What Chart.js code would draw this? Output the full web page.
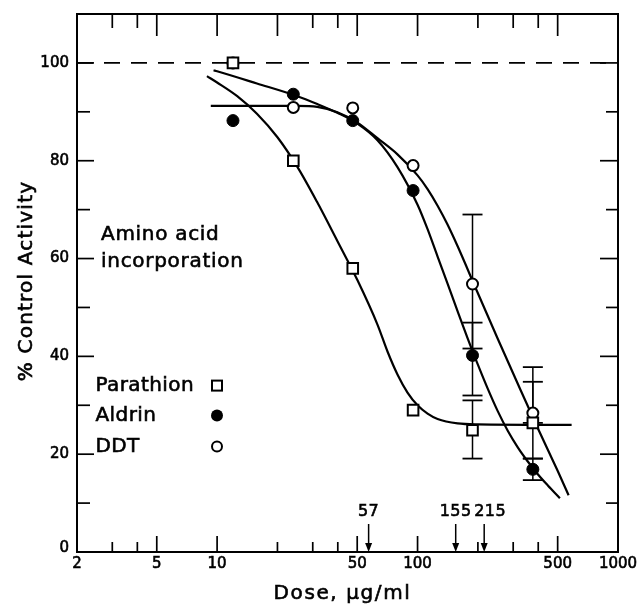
<!DOCTYPE html>
<html><head><meta charset="utf-8">
<script src="https://cdn.jsdelivr.net/npm/chart.js@4.4.0/dist/chart.umd.min.js"></script>
<style>html,body{margin:0;padding:0;background:#fff;}</style>
</head><body>
<canvas id="c" width="643" height="605"></canvas>
<script>
// ---------- data ----------
const doses = [12, 24, 47.5, 95, 188, 376];
const seriesNames = ['Parathion', 'Aldrin', 'DDT'];
const parathionValues = [100, 80, 58, 29, 24.9, 26.4];
const aldrinValues = [88.2, 93.6, 88.2, 73.9, 40.2, 16.9];
const ddtValues = [100, 90.9, 90.8, 79, 54.8, 28.4];

// error bars: [dose, low, high]
const parathionErr = [[188, 19.1, 31], [376, 26.4, 34.8]];
const aldrinErr = [[188, 32, 46.9], [376, 14.7, 19.1]];
const ddtErr = [[188, 41.6, 69], [376, 19.1, 37.8]];

// fitted curves: [dose, %]
const parathionCurve = [[8.9,97.3],[10,96],[12.6,93.2],[15.8,89.6],[20,84.8],[25.1,78.8],[31.6,71.5],[39.8,63.6],[50.1,55.6],[63.1,46.5],[70.8,41],[79.4,36.3],[89.1,32.6],[100,30],[112.2,28.3],[125.9,27.2],[158.5,26.3],[199.5,26.1],[587,26]];
const aldrinCurve = [[9.6,98.5],[10,98.3],[15.8,95.8],[25.1,93.2],[31.6,91.6],[39.8,89.8],[50.1,87.6],[63.1,84.2],[79.4,78.7],[100,71],[112.2,66],[125.9,60.4],[141.3,54.8],[158.5,49.2],[177.8,43.7],[199.5,38.4],[223.9,33.4],[251.2,28.8],[281.8,24.8],[316.2,21.4],[354.8,18.5],[398.1,15.9],[446.7,13.6],[513,11]];
const ddtCurve = [[9.3,91.2],[25.1,91.2],[31.6,91],[39.8,89.9],[50.1,87.8],[63.1,84.6],[79.4,81.3],[100,77],[112.2,74.2],[125.9,70.8],[141.3,66.9],[158.5,62.5],[199.5,53],[251.2,43.6],[316.2,34.4],[398.1,25.3],[501.2,16.5],[567,11.6]];

const controlLevel = 100;
const xRange = [2, 1000];
const yRange = [0, 110];
const xTickLabels = [2, 5, 10, 50, 100, 500, 1000];
const xLongMarks = [5, 10, 50, 100, 500];
const xShortMarks = [3, 4, 20, 30, 40, 200, 300, 400];
const xTopLongMarks = [5, 10, 20, 50, 100, 500];
const xTopShortMarks = [3, 4, 30, 40, 200, 300, 400];
const yTickLabels = [0, 20, 40, 60, 80, 100];
const yMinorMarks = [10, 30, 50, 70, 90];
const arrowDoses = [57, 155, 215];
const arrowLabels = ['57', '155', '215'];
const annotationLines = ['Amino acid', 'incorporation'];
const xTitle = 'Dose, \u03bcg/ml';
const yTitle = '% Control Activity';

// ---------- build datasets ----------
const pts = (xs, ys) => xs.map((x, i) => ({x, y: ys[i]}));
const curvePts = c => c.map(p => ({x: p[0], y: p[1]}));
const errPts = e => {
  const out = [];
  e.forEach(b => { out.push({x: b[0], y: b[1]}, {x: b[0], y: b[2]}, {x: b[0], y: null}); });
  return out;
};

const FONT = '"DejaVu Sans", sans-serif';
function txt(ctx, s, x, y, size, align, spacing) {
  ctx.save();
  ctx.font = size + 'px ' + FONT;
  ctx.letterSpacing = (spacing || 0) + 'px';
  ctx.textAlign = align || 'center';
  ctx.textBaseline = 'middle';
  ctx.fillStyle = '#000';
  ctx.strokeStyle = '#000';
  ctx.lineWidth = 0.6;
  ctx.fillText(s, x, y);
  ctx.strokeText(s, x, y);
  ctx.restore();
}

const curveStyle = {showLine: true, pointRadius: 0, borderColor: '#000', borderWidth: 2.2, cubicInterpolationMode: 'monotone', order: 3};
const errStyle = {showLine: true, borderColor: '#000', borderWidth: 1.5, pointStyle: 'line', pointRadius: 10, pointBorderWidth: 1.8, pointBorderColor: '#000', spanGaps: false, order: 2};

const decor = {
  id: 'decor',
  afterDatasetsDraw(chart) {
    const ctx = chart.ctx, a = chart.chartArea;
    const xs = chart.scales.x, ys = chart.scales.y;
    ctx.save();
    ctx.strokeStyle = '#000';
    ctx.lineWidth = 2;
    ctx.strokeRect(a.left, a.top, a.right - a.left, a.bottom - a.top);
    ctx.lineWidth = 1.7;
    const vt = (v, y0, len) => { const x = xs.getPixelForValue(v); ctx.beginPath(); ctx.moveTo(x, y0); ctx.lineTo(x, y0 + len); ctx.stroke(); };
    const ht = (v, x0, len) => { const y = ys.getPixelForValue(v); ctx.beginPath(); ctx.moveTo(x0, y); ctx.lineTo(x0 + len, y); ctx.stroke(); };
    xLongMarks.forEach(v => vt(v, a.bottom, -16));
    xShortMarks.forEach(v => vt(v, a.bottom, -10));
    xTopLongMarks.forEach(v => vt(v, a.top, 22));
    xTopShortMarks.forEach(v => vt(v, a.top, 14));
    yTickLabels.filter(v => v > 0).forEach(v => { ht(v, a.left, 17); ht(v, a.right, -18); });
    yMinorMarks.forEach(v => { ht(v, a.left, 13); ht(v, a.right, -12); });
    // tick labels
    xTickLabels.forEach(v => txt(ctx, String(v), xs.getPixelForValue(v), a.bottom + 12, 15, 'center'));
    yTickLabels.forEach(v => txt(ctx, String(v), a.left - 8, ys.getPixelForValue(v) - (v === 0 ? 4 : 0), 15, 'right'));
    // titles
    txt(ctx, xTitle, (a.left + a.right) / 2 - 5, a.bottom + 42, 20, 'center', 1.6);
    ctx.save();
    ctx.translate(27, (a.top + a.bottom) / 2 - 2);
    ctx.rotate(-Math.PI / 2);
    txt(ctx, yTitle, 0, 0, 20, 'center', 1.2);
    ctx.restore();
    // arrows
    ctx.lineWidth = 1.5;
    arrowDoses.forEach((d, i) => {
      const x = xs.getPixelForValue(d);
      ctx.beginPath(); ctx.moveTo(x, a.bottom - 28); ctx.lineTo(x, a.bottom - 6); ctx.stroke();
      ctx.beginPath(); ctx.moveTo(x - 3.5, a.bottom - 9); ctx.lineTo(x + 3.5, a.bottom - 9); ctx.lineTo(x, a.bottom); ctx.closePath(); ctx.fillStyle = '#000'; ctx.fill();
      txt(ctx, arrowLabels[i], x + (i === 2 ? 6 : 0), a.bottom - 40, 16, 'center', 0.5);
    });
    // annotation
    txt(ctx, annotationLines[0], 101, 234.5, 20, 'left', 0.7);
    txt(ctx, annotationLines[1], 101, 262, 20, 'left', 0.7);
    // legend
    const ly = [385.6, 415.5, 446.5];
    seriesNames.forEach((n, i) => txt(ctx, n, 95.5, ly[i], 20, 'left', 0.4));
    const mx = 217;
    ctx.lineWidth = 2;
    ctx.strokeRect(mx - 5, ly[0] - 5, 10, 10);
    ctx.beginPath(); ctx.arc(mx, ly[1], 6, 0, Math.PI * 2); ctx.fillStyle = '#000'; ctx.fill();
    ctx.beginPath(); ctx.arc(mx, ly[2], 5, 0, Math.PI * 2); ctx.stroke();
    ctx.restore();
  }
};

new Chart(document.getElementById('c'), {
  type: 'scatter',
  data: {
    datasets: [
      {label: seriesNames[0], data: pts(doses, parathionValues), pointStyle: 'rect', pointRadius: 7.5, pointBorderWidth: 2, pointBorderColor: '#000', pointBackgroundColor: '#fff', order: 0},
      {label: seriesNames[1], data: pts(doses, aldrinValues), pointStyle: 'circle', pointRadius: 6, pointBorderWidth: 1, pointBorderColor: '#000', pointBackgroundColor: '#000', order: 0},
      {label: seriesNames[2], data: pts(doses, ddtValues), pointStyle: 'circle', pointRadius: 5.5, pointBorderWidth: 2, pointBorderColor: '#000', pointBackgroundColor: '#fff', order: 0},
      Object.assign({label: 'pErr', data: errPts(parathionErr)}, errStyle),
      Object.assign({label: 'aErr', data: errPts(aldrinErr)}, errStyle),
      Object.assign({label: 'dErr', data: errPts(ddtErr)}, errStyle),
      Object.assign({label: 'pCurve', data: curvePts(parathionCurve)}, curveStyle),
      Object.assign({label: 'aCurve', data: curvePts(aldrinCurve)}, curveStyle),
      Object.assign({label: 'dCurve', data: curvePts(ddtCurve)}, curveStyle),
      {label: 'control', data: [{x: xRange[0], y: controlLevel}, {x: xRange[1], y: controlLevel}], showLine: true, pointRadius: 0, borderColor: '#000', borderWidth: 1.6, borderDash: [16, 11], order: 4}
    ]
  },
  options: {
    responsive: false, animation: false, devicePixelRatio: 1,
    layout: {padding: {left: 0, right: 25, top: 14, bottom: 0}},
    plugins: {legend: {display: false}, tooltip: {enabled: false}},
    scales: {
      x: {type: 'logarithmic', min: xRange[0], max: xRange[1], ticks: {display: false}, grid: {display: false, drawTicks: false}, border: {display: false}, afterFit: s => { s.height = 53; }},
      y: {type: 'linear', min: yRange[0], max: yRange[1], ticks: {display: false}, grid: {display: false, drawTicks: false}, border: {display: false}, afterFit: s => { s.width = 77; }}
    }
  },
  plugins: [decor]
});
</script>
</body></html>
